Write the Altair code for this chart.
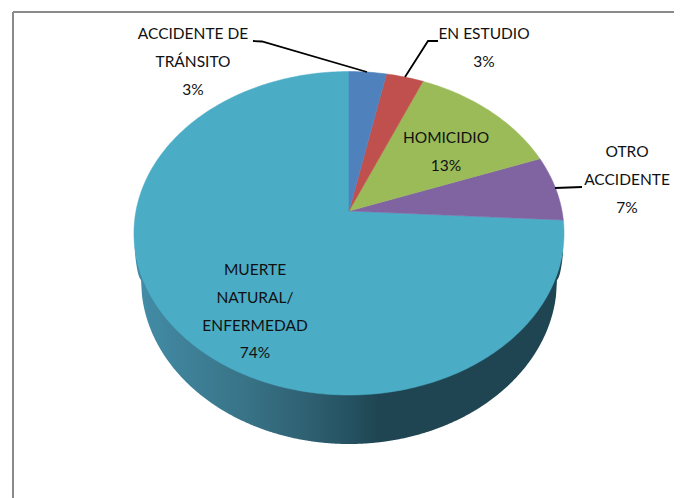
import math
import altair as alt
import pandas as pd

# ---- chart values ----
categories = ["ACCIDENTE DE TRÁNSITO", "EN ESTUDIO", "HOMICIDIO", "OTRO ACCIDENTE", "MUERTE NATURAL/ENFERMEDAD"]
values = [3.2, 3.2, 13.0, 6.5, 74.1]
colors = ["#4f81bd", "#c0504d", "#9bbb59", "#8064a2", "#4bacc6"]

label_lines = [
    ["ACCIDENTE DE", "TRÁNSITO", "3%"],
    ["EN ESTUDIO", "3%"],
    ["HOMICIDIO", "13%"],
    ["OTRO", "ACCIDENTE", "7%"],
    ["MUERTE", "NATURAL/", "ENFERMEDAD", "74%"],
]
label_x = [193, 484, 446, 627, 255]
label_y0 = [34, 34, 138, 152, 270]
label_step = 27.8

leader_x = [[253, 262, 367], [438, 428, 405], [582, 555]]
leader_y = [[41, 41.5, 72], [41, 41, 77], [187, 188]]

# ---- geometry of the tilted pie (page pixels) ----
CX, CY = 349, 211      # apex
RX, RY, K = 213, 158.7, 0.1376
WALL_CY, WALL_RX, WALL_RY = 280, 208, 164
EC_Y, EC_RX, EC_RY = 233, 215, 162


def project(frac):
    a = 2 * math.pi * frac
    u, v = math.sin(a), math.cos(a)
    w = 1 + K * v
    return CX + RX * u / w, CY - RY * v / w


total = sum(values)
rows = []
cum = 0.0
for i, (cat, val) in enumerate(zip(categories, values)):
    n = max(4, int(val * 4))
    order = 0
    rows.append(dict(cat=cat, x=CX, y=CY, o=order))
    for s in range(n + 1):
        px, py = project((cum + val * s / n) / total)
        order += 1
        rows.append(dict(cat=cat, x=px, y=py, o=order))
    rows.append(dict(cat=cat, x=CX, y=CY, o=order + 1))
    cum += val
slices = pd.DataFrame(rows)

wall_rows = []
for xi in range(134, 564):
    dx = xi - CX
    top = EC_Y + EC_RY * math.sqrt(max(0, 1 - (dx / EC_RX) ** 2))
    if abs(dx) <= WALL_RX:
        bot = WALL_CY + WALL_RY * math.sqrt(1 - (dx / WALL_RX) ** 2)
    else:
        t = (abs(dx) - WALL_RX) / (EC_RX - WALL_RX)
        bot = WALL_CY + (top - WALL_CY) * min(1, t)
    wall_rows.append(dict(x=xi, top=top - 1, bot=max(bot, top)))
wall = pd.DataFrame(wall_rows)

xs = alt.Scale(domain=[8, 674], range=[0, 666], nice=False, zero=False)
ys = alt.Scale(domain=[498, 8], nice=False, zero=False)
X = alt.X("x:Q", scale=xs, axis=None)
Y = alt.Y("y:Q", scale=ys, axis=None)

wall_layer = alt.Chart(wall).mark_area(
    color=alt.Gradient(
        gradient="linear", x1=0, x2=1, y1=0, y2=0,
        stops=[
            alt.GradientStop(offset=0.0, color="#438ea9"),
            alt.GradientStop(offset=0.1, color="#3f839b"),
            alt.GradientStop(offset=0.25, color="#397488"),
            alt.GradientStop(offset=0.4, color="#2f6172"),
            alt.GradientStop(offset=0.5, color="#255262"),
            alt.GradientStop(offset=0.57, color="#1f4552"),
            alt.GradientStop(offset=1.0, color="#1f4552"),
        ],
    )
).encode(x=X, y=alt.Y("top:Q", scale=ys, axis=None), y2="bot:Q")

slice_layers = [
    alt.Chart(slices[slices.cat == c])
    .mark_line(fill=col, stroke=col, strokeWidth=0.5, interpolate="linear")
    .encode(x=X, y=Y, order="o:Q")
    for c, col in zip(reversed(categories), reversed(colors))
]

leader_layers = [
    alt.Chart(pd.DataFrame(dict(x=lx, y=ly, o=range(len(lx)))))
    .mark_line(color="#000000", strokeWidth=1.8)
    .encode(x=X, y=Y, order="o:Q")
    for lx, ly in zip(leader_x, leader_y)
]

text_rows = []
for lines, lx, ly in zip(label_lines, label_x, label_y0):
    for j, t in enumerate(lines):
        text_rows.append(dict(x=lx, y=ly + j * label_step, t=t))
text_layer = alt.Chart(pd.DataFrame(text_rows)).mark_text(
    font="Lato", fontSize=15.5, color="#111111", align="center", baseline="middle"
).encode(x=X, y=Y, text="t:N")

frame_v = alt.Chart(pd.DataFrame(dict(x=[13], y=[12], y2=[498]))).mark_rule(color="#8a8a8a", strokeWidth=2).encode(
    x=X, y=alt.Y("y:Q", scale=ys, axis=None), y2="y2:Q"
)
frame_h = alt.Chart(pd.DataFrame(dict(x=[13], x2=[674], y=[12]))).mark_rule(
    color="#8a8a8a", strokeWidth=2
).encode(x=X, x2="x2:Q", y=Y)

chart = alt.layer(
    frame_v, frame_h, wall_layer, *slice_layers, *leader_layers, text_layer
).properties(
    width=666, height=490, padding=0, autosize=alt.AutoSizeParams(type="none"),
    background="white",
).configure_view(stroke=None)

chart.save("out.html", embed_options={"renderer": "svg", "actions": False})
